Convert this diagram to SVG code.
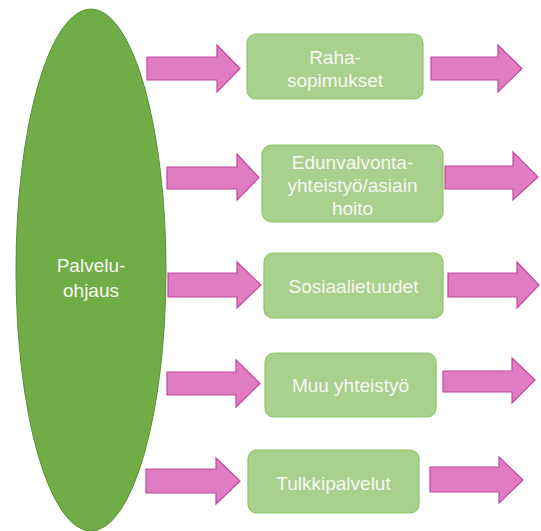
<svg xmlns="http://www.w3.org/2000/svg" width="541" height="531" viewBox="0 0 541 531">
  <style>
    .hub { fill: #70ad47; stroke: #5b8f39; stroke-width: 1; }
    .box { fill: #a9d18e; stroke: #8cc46a; stroke-width: 1.2; }
    .arrow { fill: #e07cc2; stroke: #c5479f; stroke-width: 1.2; stroke-linejoin: miter; }
    .label { font-family: "Liberation Sans", Arial, sans-serif; font-size: 19px; fill: #f7f7f2; text-anchor: middle; dominant-baseline: central; }
  </style>

  <!-- central hub -->
  <g id="palveluohjaus">
    <ellipse class="hub" cx="91" cy="270" rx="75" ry="261"/>
    <text class="label" x="91" y="265">Palvelu-</text>
    <text class="label" x="91" y="290">ohjaus</text>
  </g>

  <!-- block arrows into and out of each service -->
  <g id="connectors">
    <polygon class="arrow" points="147,57 217,57 217,45 240,68.5 217,92 217,80 147,80"/>
    <polygon class="arrow" points="431,57 498,57 498,45 522,68.5 498,92 498,80 431,80"/>

    <polygon class="arrow" points="167,167 237,167 237,154 259,177.5 237,200 237,189 167,189"/>
    <polygon class="arrow" points="445,166 513,166 513,152 538,177 513,200 513,189 445,189"/>

    <polygon class="arrow" points="168,273 237,273 237,262 261,285 237,308 237,297 168,297"/>
    <polygon class="arrow" points="448,273 517,273 517,262 539,285 517,308 517,297 448,297"/>

    <polygon class="arrow" points="167,372 236,372 236,360 260,383.5 236,407 236,395 167,395"/>
    <polygon class="arrow" points="443,371 512,371 512,358 535,380 512,403 512,392 443,392"/>

    <polygon class="arrow" points="146,469 216,469 216,458 240,481 216,504 216,493 146,493"/>
    <polygon class="arrow" points="430,467 499,467 499,457 523,480 499,503 499,492 430,492"/>
  </g>

  <g id="rahasopimukset">
    <rect class="box" x="247" y="34" width="176" height="65" rx="9"/>
    <text class="label" x="335" y="57">Raha-</text>
    <text class="label" x="335" y="80">sopimukset</text>
  </g>

  <g id="edunvalvonta">
    <rect class="box" x="262" y="145" width="181" height="77" rx="10"/>
    <text class="label" x="352.5" y="162">Edunvalvonta-</text>
    <text class="label" x="352.5" y="185">yhteistyö/asiain</text>
    <text class="label" x="352.5" y="208">hoito</text>
  </g>

  <g id="sosiaalietuudet">
    <rect class="box" x="264" y="253" width="179" height="65" rx="9"/>
    <text class="label" x="353.5" y="286">Sosiaalietuudet</text>
  </g>

  <g id="muu-yhteistyo">
    <rect class="box" x="265" y="353" width="171" height="64" rx="9"/>
    <text class="label" x="350.5" y="385">Muu yhteistyö</text>
  </g>

  <g id="tulkkipalvelut">
    <rect class="box" x="248" y="450" width="171" height="63" rx="9"/>
    <text class="label" x="333.5" y="483">Tulkkipalvelut</text>
  </g>
</svg>
